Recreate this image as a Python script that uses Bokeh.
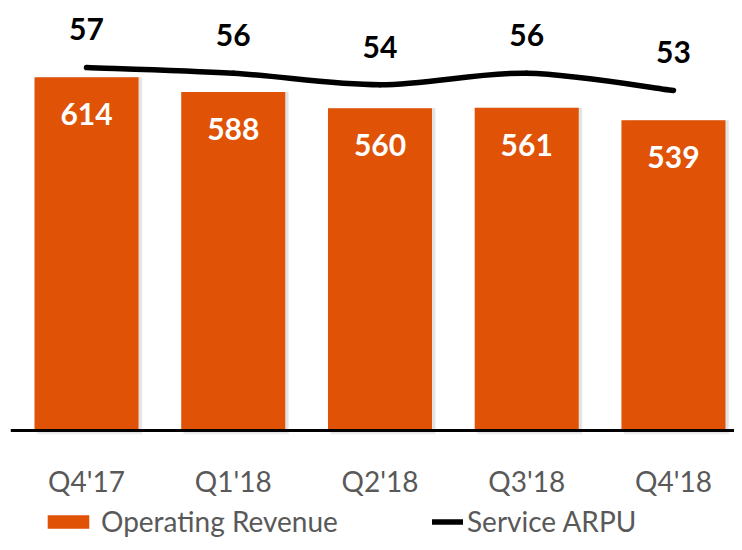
from bokeh.plotting import figure
from bokeh.models import Range1d, Legend, LegendItem, ColumnDataSource, Span
from bokeh.core.properties import value
from bokeh.embed import file_html
from bokeh.resources import INLINE

quarters = ["Q4'17", "Q1'18", "Q2'18", "Q3'18", "Q4'18"]
revenue = [614, 588, 560, 561, 539]
arpu = [57, 56, 54, 56, 53]

ORANGE = "#E05206"
GRAY = "#595959"
FONT = "Lato"

p = figure(x_range=Range1d(-0.518, 4.416), y_range=Range1d(-194.6, 747.2),
           width=734, height=542, output_backend="svg", toolbar_location=None,
           min_border_left=10, min_border_right=0, min_border_top=0, min_border_bottom=0)
p.extra_y_ranges = {"arpu": Range1d(-25.61, 68.65)}

xi = [i for i, _ in enumerate(quarters)]
zeros = [0 for _ in quarters]
src = ColumnDataSource(dict(q=quarters, xi=xi, zero=zeros, rev=revenue, arpu=arpu,
                            xs=[x + 0.02 for x in xi],
                            rev_lbl=[str(v) for v in revenue],
                            arpu_lbl=[str(v) for v in arpu]))

# soft shadow
for k, a in enumerate([0.10, 0.08, 0.06]):
    p.vbar(x="xs", top="rev", bottom=-4 - 2 * k, width=0.709 + 0.006 * k, source=src,
           fill_color="#808080", fill_alpha=a, line_color=None)

bars = p.vbar(x="xi", top="rev", width=0.709, source=src, fill_color=ORANGE, line_color=None)

p.add_layout(Span(location=0, dimension="width", line_color="black", line_width=3))

p.text(x="xi", y="rev", text="rev_lbl", source=src, text_color="white",
       text_font=value(FONT), text_font_style="bold", text_font_size="30px",
       text_align="center", text_baseline="alphabetic", y_offset=37)

# category labels under the baseline
p.text(x="xi", y="zero", text="q", source=src, text_color=GRAY,
       text_font=value(FONT), text_font_size="28px",
       text_align="center", text_baseline="alphabetic", y_offset=50)

# smoothed ARPU line (Bezier segments through the data points)
n = len(xi)
x0, y0, x1, y1, cx0, cy0, cx1, cy1 = [], [], [], [], [], [], [], []
for i in range(n - 1):
    pm = max(i - 1, 0)
    pp = min(i + 2, n - 1)
    x0.append(xi[i]); y0.append(arpu[i]); x1.append(xi[i + 1]); y1.append(arpu[i + 1])
    cx0.append(xi[i] + (xi[i + 1] - xi[pm]) / 6); cy0.append(arpu[i] + (arpu[i + 1] - arpu[pm]) / 6)
    cx1.append(xi[i + 1] - (xi[pp] - xi[i]) / 6); cy1.append(arpu[i + 1] - (arpu[pp] - arpu[i]) / 6)
bez = p.bezier(x0=x0, y0=y0, x1=x1, y1=y1, cx0=cx0, cy0=cy0, cx1=cx1, cy1=cy1,
               line_color="black", line_width=5.5, line_cap="round", y_range_name="arpu")

p.text(x="xi", y="arpu", text="arpu_lbl", source=src, text_color="black",
       text_font=value(FONT), text_font_style="bold", text_font_size="30px",
       text_align="center", text_baseline="alphabetic", y_offset=-38, y_range_name="arpu")

p.axis.visible = False
p.xgrid.visible = False
p.ygrid.visible = False
p.outline_line_color = None

leg1 = Legend(items=[LegendItem(label="Operating Revenue", renderers=[bars], index=0)],
              location=(32, 4), orientation="horizontal",
              glyph_width=52, glyph_height=17, label_standoff=7,
              label_text_font=FONT, label_text_font_size="28px", label_text_color=GRAY,
              padding=0, margin=0, border_line_color=None, background_fill_alpha=0)
leg2 = Legend(items=[LegendItem(label="Service ARPU", renderers=[bez], index=0)],
              location=(422, 4), orientation="horizontal",
              glyph_width=31, glyph_height=17, label_standoff=4,
              label_text_font=FONT, label_text_font_size="28px", label_text_color=GRAY,
              padding=0, margin=0, border_line_color=None, background_fill_alpha=0)
p.add_layout(leg1, "center")
p.add_layout(leg2, "center")

open("out.html", "w").write(file_html(p, INLINE))
